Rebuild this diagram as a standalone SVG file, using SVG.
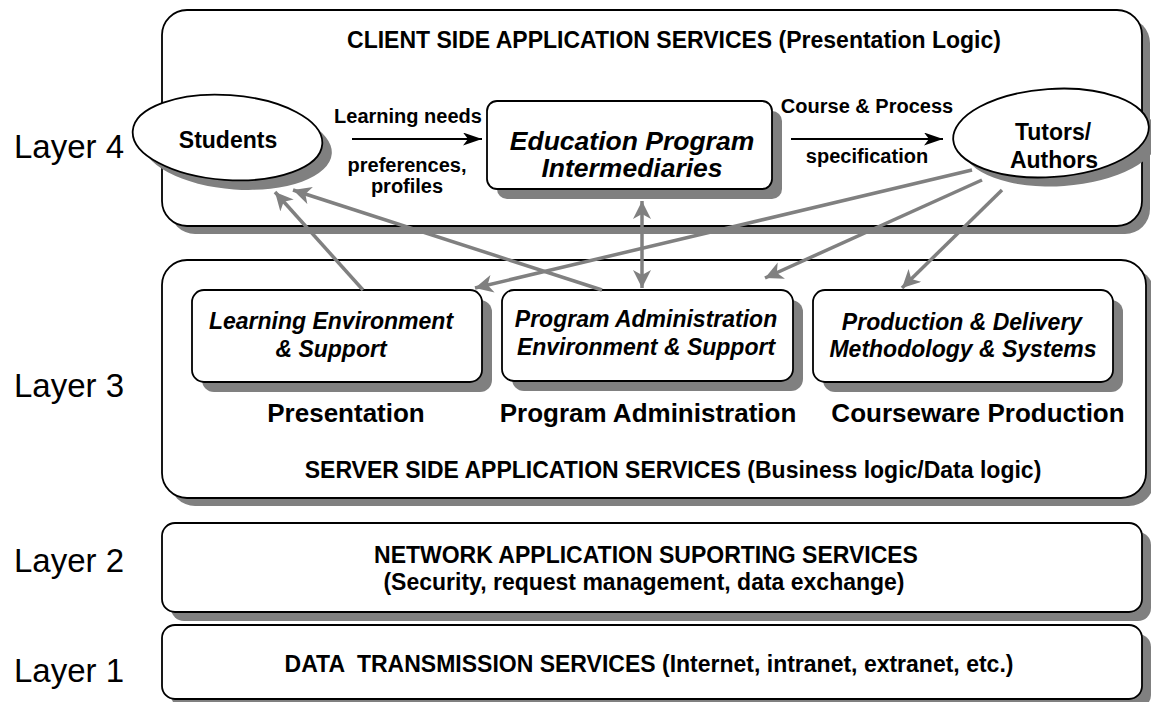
<svg xmlns="http://www.w3.org/2000/svg" width="1151" height="702" viewBox="0 0 1151 702">
<defs>
<style>
.box{fill:#fff;stroke:#000;stroke-width:1.8}
.sh{fill:#808080}
.t{font-family:"Liberation Sans",Arial,Helvetica,sans-serif;font-weight:bold;text-anchor:middle;fill:#000}
.i{font-style:italic}
.lay{font-family:"Liberation Sans",Arial,Helvetica,sans-serif;font-size:33px;fill:#000}
.gc{stroke:#808080;stroke-width:3.5;fill:none}
.bc{stroke:#000;stroke-width:2;fill:none}
</style>
<marker id="ga" markerUnits="userSpaceOnUse" markerWidth="20" markerHeight="18" refX="18" refY="9" orient="auto">
<path d="M0,0 L18,9 L0,18 L5,9 z" fill="#808080"/>
</marker>
<marker id="gs" markerUnits="userSpaceOnUse" markerWidth="20" markerHeight="18" refX="18" refY="9" orient="auto-start-reverse">
<path d="M0,0 L18,9 L0,18 L5,9 z" fill="#808080"/>
</marker>
<marker id="ba" markerUnits="userSpaceOnUse" markerWidth="20" markerHeight="14" refX="19" refY="6.5" orient="auto">
<path d="M0,0 L19,6.5 L0,13 L5,6.5 z" fill="#000"/>
</marker>
</defs>
<rect width="1151" height="702" fill="#fff"/>

<g id="layer-labels">
<text class="lay" x="14" y="158">Layer 4</text>
<text class="lay" x="14" y="397">Layer 3</text>
<text class="lay" x="14" y="572">Layer 2</text>
<text class="lay" x="14" y="682">Layer 1</text>
</g>

<g id="layer4">
<rect class="sh" x="170" y="18" width="980" height="216" rx="25"/>
<rect class="box" x="162" y="10" width="980" height="216" rx="25"/>
<text class="t" x="674" y="48" font-size="23">CLIENT SIDE APPLICATION SERVICES (Presentation Logic)</text>
</g>

<g id="layer3">
<rect class="sh" x="170" y="268" width="984" height="238" rx="25"/>
<rect class="box" x="162" y="260" width="984" height="238" rx="25"/>
<text class="t" x="346" y="422" font-size="26">Presentation</text>
<text class="t" x="648" y="422" font-size="26">Program Administration</text>
<text class="t" x="978" y="422" font-size="26">Courseware Production</text>
<text class="t" x="673" y="478" font-size="23">SERVER SIDE APPLICATION SERVICES (Business logic/Data logic)</text>
</g>

<g id="layer2">
<rect class="sh" x="171" y="532" width="980" height="89" rx="13"/>
<rect class="box" x="162" y="523" width="980" height="89" rx="13"/>
<text class="t" x="646" y="563" font-size="23">NETWORK APPLICATION SUPORTING SERVICES</text>
<text class="t" x="644" y="590" font-size="23">(Security, request management, data exchange)</text>
</g>

<g id="layer1">
<rect class="sh" x="171" y="634" width="980" height="74" rx="13"/>
<rect class="box" x="162" y="625" width="980" height="74" rx="13"/>
<text class="t" x="649" y="672" font-size="23" xml:space="preserve">DATA  TRANSMISSION SERVICES (Internet, intranet, extranet, etc.)</text>
</g>

<g id="students">
<ellipse class="sh" cx="237" cy="147" rx="95" ry="42.5" transform="rotate(4 237 147)"/>
<ellipse class="box" cx="227.5" cy="137.5" rx="95" ry="42.5" transform="rotate(4 227.5 137.5)"/>
<text class="t" x="228" y="148" font-size="23">Students</text>
</g>

<g id="education">
<rect class="sh" x="497" y="111" width="285" height="88" rx="10"/>
<rect class="box" x="487" y="101" width="285" height="88" rx="10"/>
<text class="t i" x="632" y="150" font-size="26.5">Education Program</text>
<text class="t i" x="632" y="177" font-size="26.5">Intermediaries</text>
</g>

<g id="tutors">
<ellipse class="sh" cx="1061" cy="142" rx="98" ry="44" transform="rotate(-4 1061 142)"/>
<ellipse class="box" cx="1051" cy="133" rx="98" ry="44" transform="rotate(-4 1051 133)"/>
<text class="t" x="1053" y="140" font-size="23">Tutors/</text>
<text class="t" x="1054" y="168" font-size="23">Authors</text>
</g>

<g id="learning-env">
<rect class="sh" x="202" y="300" width="290" height="92" rx="12"/>
<rect class="box" x="192" y="290" width="290" height="92" rx="12"/>
<text class="t i" x="331" y="329" font-size="23">Learning Environment</text>
<text class="t i" x="331" y="357" font-size="23">&amp; Support</text>
</g>

<g id="program-admin">
<rect class="sh" x="512" y="300" width="291" height="91" rx="12"/>
<rect class="box" x="502" y="290" width="291" height="91" rx="12"/>
<text class="t i" x="646" y="327" font-size="23">Program Administration</text>
<text class="t i" x="646" y="355" font-size="23">Environment &amp; Support</text>
</g>

<g id="production">
<rect class="sh" x="823" y="300" width="300" height="92" rx="12"/>
<rect class="box" x="813" y="290" width="300" height="92" rx="12"/>
<text class="t i" x="962" y="330" font-size="23">Production &amp; Delivery</text>
<text class="t i" x="963" y="357" font-size="23">Methodology &amp; Systems</text>
</g>

<g id="connectors">
<line class="bc" x1="352" y1="139" x2="482" y2="139" marker-end="url(#ba)"/>
<text class="t" x="408" y="123" font-size="20">Learning needs</text>
<text class="t" x="407" y="172" font-size="20">preferences,</text>
<text class="t" x="407" y="193" font-size="20">profiles</text>
<line class="bc" x1="791" y1="139" x2="943" y2="139" marker-end="url(#ba)"/>
<text class="t" x="867" y="113" font-size="20">Course &amp; Process</text>
<text class="t" x="867" y="163" font-size="20">specification</text>
<line class="gc" x1="363" y1="290" x2="275" y2="192" marker-end="url(#ga)"/>
<line class="gc" x1="602" y1="290" x2="293" y2="190" marker-end="url(#ga)"/>
<line class="gc" x1="642" y1="201" x2="642" y2="288" marker-start="url(#gs)" marker-end="url(#ga)"/>
<line class="gc" x1="972" y1="170" x2="475" y2="288" marker-end="url(#ga)"/>
<line class="gc" x1="982" y1="180" x2="765" y2="278" marker-end="url(#ga)"/>
<line class="gc" x1="1002" y1="190" x2="902" y2="288" marker-end="url(#ga)"/>
</g>
</svg>
